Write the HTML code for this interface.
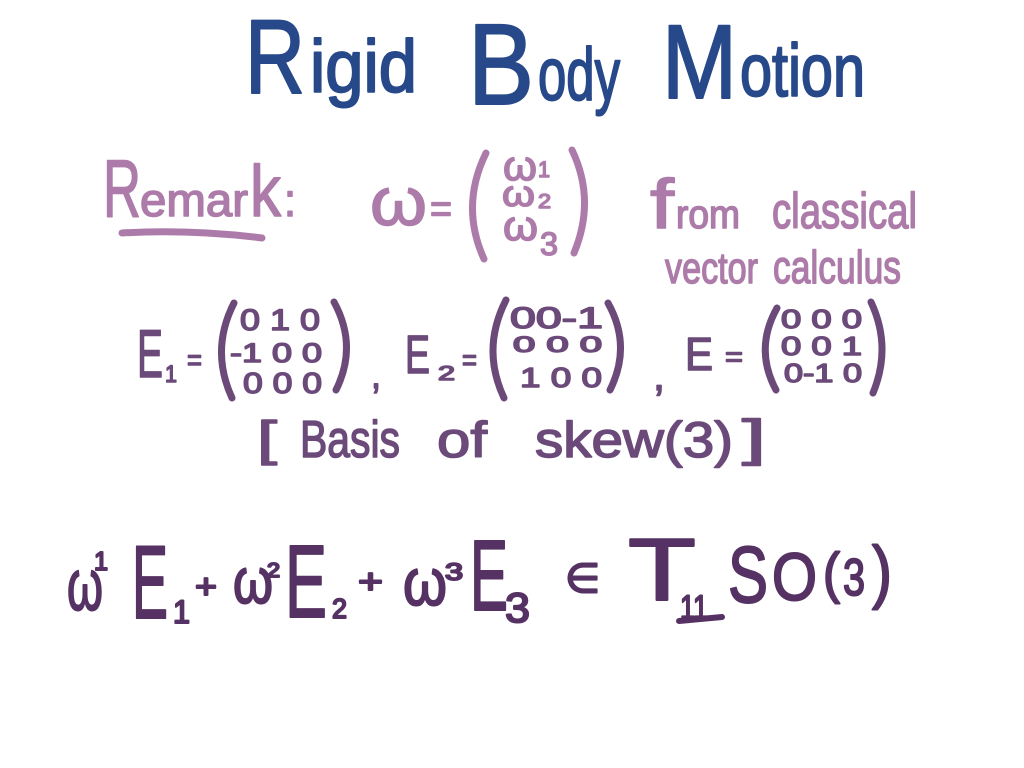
<!DOCTYPE html>
<html>
<head>
<meta charset="utf-8">
<style>
html,body{margin:0;padding:0;background:#fff;}
svg{display:block;}
text{font-family:"Liberation Sans","DejaVu Sans",sans-serif;stroke-linejoin:round;stroke-linecap:round;}
.t{fill:#27498a;stroke:#27498a;stroke-width:2;}
.r{fill:#ad7ba9;stroke:#ad7ba9;stroke-width:1.5;}
.m{fill:#6b4a7a;stroke:#6b4a7a;stroke-width:1.5;}
.b{fill:#553263;stroke:#553263;stroke-width:2;}
.pr{fill:none;stroke:#ad7ba9;stroke-width:7;stroke-linecap:round;}
.pm{fill:none;stroke:#6b4a7a;stroke-width:7;stroke-linecap:round;}
.pb{fill:none;stroke:#553263;stroke-width:6;stroke-linecap:round;}
</style>
</head>
<body>
<svg width="1024" height="768" viewBox="0 0 1024 768" xmlns="http://www.w3.org/2000/svg">
<rect width="1024" height="768" fill="#fff"/>

<!-- Title -->
<text class="t" x="245" y="93" font-size="105" textLength="60" lengthAdjust="spacingAndGlyphs">R</text>
<text class="t" x="310" y="92" font-size="74" textLength="107" lengthAdjust="spacingAndGlyphs">igid</text>
<text class="t" x="468" y="104" font-size="115" textLength="66" lengthAdjust="spacingAndGlyphs">B</text>
<text class="t" x="538" y="100" font-size="74" textLength="82" lengthAdjust="spacingAndGlyphs">ody</text>
<text class="t" x="662" y="98" font-size="105" textLength="75" lengthAdjust="spacingAndGlyphs">M</text>
<text class="t" x="740" y="96" font-size="74" textLength="125" lengthAdjust="spacingAndGlyphs">otion</text>

<!-- Remark -->
<text class="r" x="103" y="217" font-size="82" textLength="38" lengthAdjust="spacingAndGlyphs">R</text>
<text class="r" x="140" y="216" font-size="46" textLength="108" lengthAdjust="spacingAndGlyphs">emar</text>
<text class="r" x="250" y="216" font-size="72" textLength="31" lengthAdjust="spacingAndGlyphs">k</text>
<text class="r" x="284" y="216" font-size="46" textLength="12" lengthAdjust="spacingAndGlyphs">:</text>
<path class="pr" d="M122 233 Q190 229 262 238" stroke-width="6"/>

<text class="r" x="370" y="225" font-size="68" textLength="57" lengthAdjust="spacingAndGlyphs">ω</text>
<text class="r" x="430" y="222" font-size="40" textLength="22" lengthAdjust="spacingAndGlyphs">=</text>
<path class="pr" d="M486 153 Q460 206 484 259"/>
<path class="pr" d="M572 150 Q596 200 574 253"/>
<text class="r" x="503" y="180" font-size="42" textLength="34" lengthAdjust="spacingAndGlyphs">ω</text>
<text class="r" x="538" y="177" font-size="22" textLength="12" lengthAdjust="spacingAndGlyphs">1</text>
<text class="r" x="502" y="206" font-size="36" textLength="33" lengthAdjust="spacingAndGlyphs">ω</text>
<text class="r" x="538" y="208" font-size="20" textLength="13" lengthAdjust="spacingAndGlyphs">2</text>
<text class="r" x="503" y="240" font-size="42" textLength="35" lengthAdjust="spacingAndGlyphs">ω</text>
<text class="r" x="540" y="255" font-size="32" textLength="18" lengthAdjust="spacingAndGlyphs">3</text>

<text class="r" x="650" y="228" font-size="70" textLength="24" lengthAdjust="spacingAndGlyphs">f</text>
<text class="r" x="676" y="228" font-size="40" textLength="64" lengthAdjust="spacingAndGlyphs">rom</text>
<text class="r" x="772" y="228" font-size="50" textLength="145" lengthAdjust="spacingAndGlyphs">classical</text>
<text class="r" x="665" y="283" font-size="44" textLength="93" lengthAdjust="spacingAndGlyphs">vector</text>
<text class="r" x="773" y="283" font-size="46" textLength="128" lengthAdjust="spacingAndGlyphs">calculus</text>

<!-- E1 -->
<text class="m" x="137" y="377" font-size="68" textLength="26" lengthAdjust="spacingAndGlyphs">E</text>
<text class="m" x="165" y="382" font-size="24" textLength="12" lengthAdjust="spacingAndGlyphs">1</text>
<text class="m" x="187" y="370" font-size="30" textLength="15" lengthAdjust="spacingAndGlyphs">=</text>
<path class="pm" d="M234 303 Q210 350 232 398"/>
<text class="m" x="240" y="330" font-size="30" textLength="80" lengthAdjust="spacingAndGlyphs">0 1 0</text>
<text class="m" x="230" y="362" font-size="27" textLength="92" lengthAdjust="spacingAndGlyphs">-1 0 0</text>
<text class="m" x="243" y="393" font-size="29" textLength="79" lengthAdjust="spacingAndGlyphs">0 0 0</text>
<path class="pm" d="M334 302 Q358 346 336 390"/>
<text class="m" x="371" y="388" font-size="40" textLength="10" lengthAdjust="spacingAndGlyphs">,</text>

<!-- E2 -->
<text class="m" x="405" y="373" font-size="54" textLength="25" lengthAdjust="spacingAndGlyphs">E</text>
<text class="m" x="438" y="380" font-size="20" textLength="17" lengthAdjust="spacingAndGlyphs">2</text>
<text class="m" x="462" y="370" font-size="30" textLength="15" lengthAdjust="spacingAndGlyphs">=</text>
<path class="pm" d="M506 300 Q481 349 504 398"/>
<text class="m" x="510" y="328" font-size="30" textLength="93" lengthAdjust="spacingAndGlyphs">00-1</text>
<text class="m" x="513" y="352" font-size="22" textLength="89" lengthAdjust="spacingAndGlyphs">0 0 0</text>
<text class="m" x="520" y="387" font-size="28" textLength="82" lengthAdjust="spacingAndGlyphs">1 0 0</text>
<path class="pm" d="M608 303 Q632 346 610 390"/>
<text class="m" x="653" y="390" font-size="44" textLength="12" lengthAdjust="spacingAndGlyphs">,</text>

<!-- E3 -->
<text class="m" x="685" y="370" font-size="46" textLength="28" lengthAdjust="spacingAndGlyphs">E</text>
<text class="m" x="725" y="366" font-size="28" textLength="18" lengthAdjust="spacingAndGlyphs">=</text>
<path class="pm" d="M777 308 Q754 349 776 390"/>
<text class="m" x="781" y="328" font-size="26" textLength="81" lengthAdjust="spacingAndGlyphs">0 0 0</text>
<text class="m" x="781" y="355" font-size="26" textLength="81" lengthAdjust="spacingAndGlyphs">0 0 1</text>
<text class="m" x="784" y="382" font-size="26" textLength="78" lengthAdjust="spacingAndGlyphs">0-1 0</text>
<path class="pm" d="M871 302 Q892 347 873 393"/>

<!-- Basis of skew(3) -->
<text class="m" x="257" y="455" font-size="48" textLength="20" lengthAdjust="spacingAndGlyphs" stroke-width="3">[</text>
<text class="m" x="300" y="457" font-size="52" textLength="100" lengthAdjust="spacingAndGlyphs">Basis</text>
<text class="m" x="437" y="457" font-size="50" textLength="50" lengthAdjust="spacingAndGlyphs">of</text>
<text class="m" x="535" y="457" font-size="50" textLength="198" lengthAdjust="spacingAndGlyphs">skew(3)</text>
<text class="m" x="742" y="455" font-size="50" textLength="24" lengthAdjust="spacingAndGlyphs" stroke-width="3">]</text>

<!-- Bottom formula -->
<text class="b" x="67" y="610" font-size="72" textLength="36" lengthAdjust="spacingAndGlyphs">ω</text>
<text class="b" x="94" y="570" font-size="26" textLength="14" lengthAdjust="spacingAndGlyphs">1</text>
<text class="b" x="132" y="618" font-size="104" textLength="36" lengthAdjust="spacingAndGlyphs">E</text>
<text class="b" x="173" y="623" font-size="32" textLength="17" lengthAdjust="spacingAndGlyphs">1</text>
<text class="b" x="195" y="598" font-size="34" textLength="22" lengthAdjust="spacingAndGlyphs">+</text>
<text class="b" x="233" y="603" font-size="64" textLength="40" lengthAdjust="spacingAndGlyphs">ω</text>
<text class="b" x="267" y="577" font-size="20" textLength="13" lengthAdjust="spacingAndGlyphs">2</text>
<text class="b" x="285" y="617" font-size="103" textLength="42" lengthAdjust="spacingAndGlyphs">E</text>
<text class="b" x="332" y="618" font-size="28" textLength="15" lengthAdjust="spacingAndGlyphs">2</text>
<text class="b" x="358" y="593" font-size="34" textLength="25" lengthAdjust="spacingAndGlyphs">+</text>
<text class="b" x="403" y="605" font-size="66" textLength="44" lengthAdjust="spacingAndGlyphs">ω</text>
<text class="b" x="445" y="580" font-size="24" textLength="18" lengthAdjust="spacingAndGlyphs">3</text>
<text class="b" x="470" y="610" font-size="100" textLength="38" lengthAdjust="spacingAndGlyphs">E</text>
<text class="b" x="505" y="622" font-size="42" textLength="25" lengthAdjust="spacingAndGlyphs">3</text>
<text class="b" x="565" y="592" font-size="40" textLength="35" lengthAdjust="spacingAndGlyphs">∈</text>
<text class="b" x="628" y="600" font-size="88" textLength="68" lengthAdjust="spacingAndGlyphs" stroke-width="1">T</text>
<text class="b" x="680" y="619" font-size="34" textLength="28" lengthAdjust="spacingAndGlyphs">11</text>
<path class="pb" d="M679 621 L722 617" stroke-width="5"/>
<text class="b" x="728" y="602" font-size="80" textLength="40" lengthAdjust="spacingAndGlyphs">S</text>
<text class="b" x="772" y="600" font-size="67" textLength="45" lengthAdjust="spacingAndGlyphs">O</text>
<text class="b" x="823" y="592" font-size="56" textLength="17" lengthAdjust="spacingAndGlyphs">(</text>
<text class="b" x="843" y="595" font-size="52" textLength="22" lengthAdjust="spacingAndGlyphs">3</text>
<text class="b" x="872" y="595" font-size="70" textLength="20" lengthAdjust="spacingAndGlyphs">)</text>
</svg>
</body>
</html>
